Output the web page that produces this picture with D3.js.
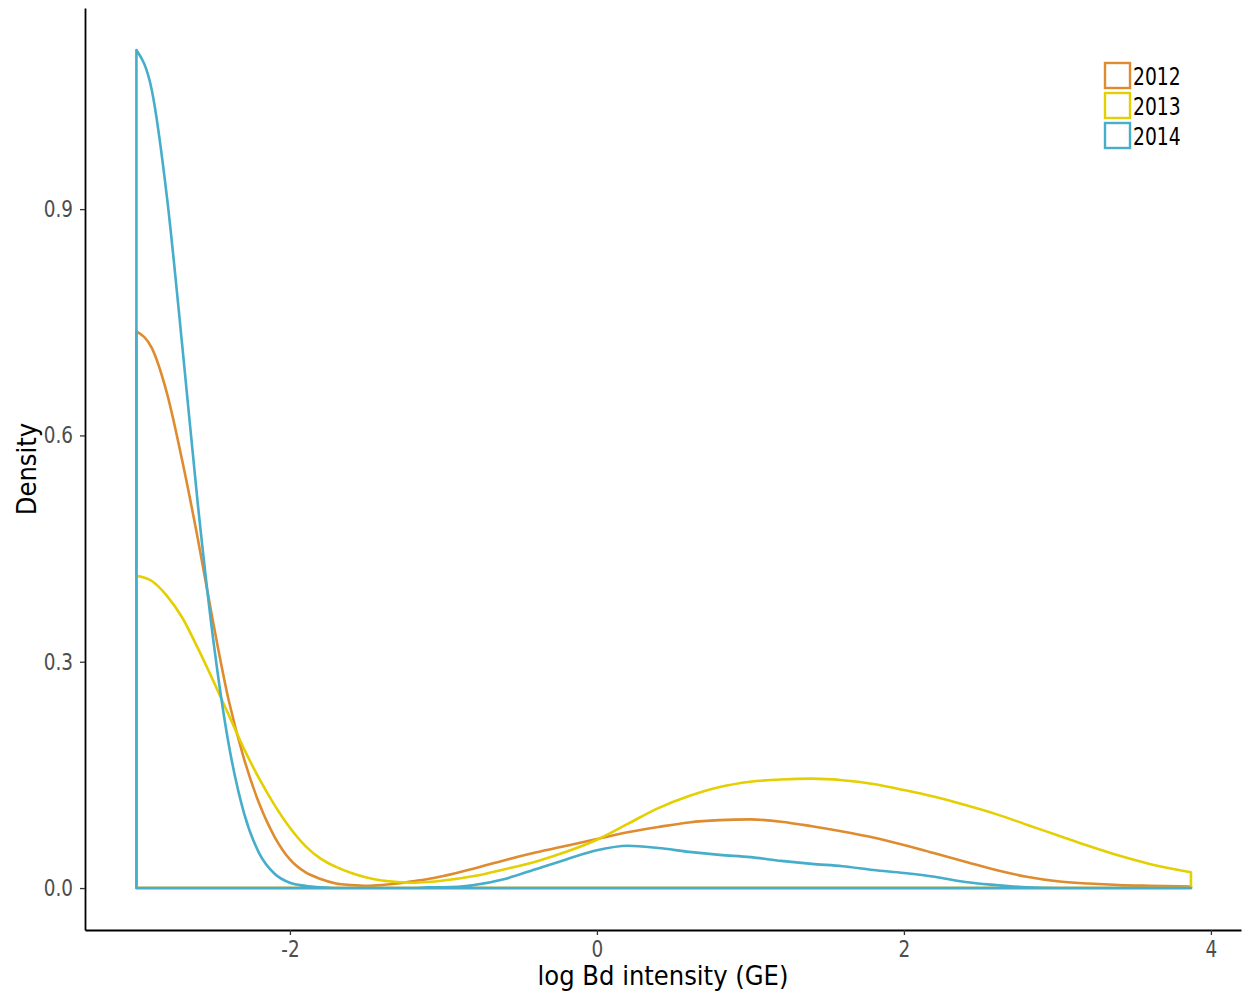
<!DOCTYPE html>
<html>
<head>
<meta charset="utf-8">
<script src="https://cdn.jsdelivr.net/npm/d3@7"></script>
<style>
  body { margin: 0; background: #fff; }
  svg text { font-family: "DejaVu Sans", Verdana, sans-serif; }
</style>
</head>
<body>
<svg id="chart" width="1243" height="996"></svg>
<script>
// grid of x values (log Bd intensity) where the densities were read
const xs = [-3, -2.9, -2.8, -2.7, -2.6, -2.5, -2.4, -2.3, -2.2, -2.1, -2.0, -1.9,
  -1.8, -1.7, -1.6, -1.5, -1.4, -1.3, -1.2, -1.1, -1.0, -0.8, -0.6, -0.4, -0.2, 0, 0.2, 0.4, 0.6, 0.8,
  1.0, 1.2, 1.4, 1.6, 1.8, 2.0, 2.2, 2.4, 2.6, 2.8, 3.0, 3.2, 3.4, 3.6, 3.87]

const years = ["2012", "2013", "2014"]
const colors = ["#DF8B2F", "#E4CF00", "#46ADCB"]

const d2012 = [0.738, 0.716, 0.655, 0.565, 0.463, 0.352, 0.250, 0.172, 0.112, 0.068, 0.038, 0.021,
  0.012, 0.006, 0.004, 0.003, 0.004, 0.006, 0.009, 0.012, 0.016, 0.026, 0.037, 0.047, 0.056, 0.065, 0.074, 0.081, 0.087, 0.090,
  0.091, 0.088, 0.082, 0.075, 0.067, 0.057, 0.046, 0.035, 0.024, 0.015, 0.009, 0.006, 0.004, 0.003, 0.002]
const d2013 = [0.414, 0.407, 0.387, 0.358, 0.318, 0.275, 0.230, 0.185, 0.145, 0.110, 0.080, 0.056,
  0.039, 0.028, 0.020, 0.014, 0.010, 0.008, 0.007, 0.008, 0.010, 0.016, 0.025, 0.035, 0.048, 0.064, 0.085, 0.106, 0.122, 0.134,
  0.141, 0.144, 0.145, 0.143, 0.138, 0.130, 0.121, 0.110, 0.098, 0.084, 0.070, 0.056, 0.043, 0.032, 0.021]
const d2014 = [1.111, 1.058, 0.914, 0.716, 0.509, 0.330, 0.192, 0.100, 0.046, 0.019, 0.007, 0.003,
  0.001, 0.0, 0.0, 0.0, 0.0, 0.0, 0.0, 0.001, 0.001, 0.004, 0.012, 0.025, 0.038, 0.050, 0.056, 0.053, 0.048, 0.044,
  0.041, 0.036, 0.032, 0.029, 0.024, 0.020, 0.015, 0.008, 0.004, 0.001, 0.0, 0.0, 0.0, 0.0, 0.0]

const xTicks = [-2, 0, 2, 4]
const yTicks = [0, 0.3, 0.6, 0.9]

const series = [d2012, d2013, d2014]

const svg = d3.select("#chart")
const mLeft = 85, mRight = 1241, mTop = 8, mBottom = 930

const x = d3.scaleLinear().domain([-3.335, 4.196]).range([mLeft, mRight])
const y = d3.scaleLinear().domain([-0.0556, 1.1666]).range([mBottom, mTop])

// density outlines (closed down to zero like geom_density)
const area = d3.area()
  .x((d, i) => x(xs[i]))
  .y0(y(0))
  .y1(d => y(d))
  .curve(d3.curveMonotoneX)

svg.append("g")
  .selectAll("path")
  .data(series)
  .join("path")
  .attr("d", d => area(d))
  .attr("fill", "none")
  .attr("stroke", (d, i) => colors[i])
  .attr("stroke-width", 2.6)
  .attr("stroke-linejoin", "round")

// axes
const xAxis = svg.append("g")
  .attr("transform", `translate(0,${mBottom})`)
  .call(d3.axisBottom(x).tickValues(xTicks).tickSize(5).tickSizeOuter(0).tickPadding(6).tickFormat(d3.format("d")))
const yAxis = svg.append("g")
  .attr("transform", `translate(${mLeft},0)`)
  .call(d3.axisLeft(y).tickValues(yTicks).tickSize(5).tickSizeOuter(0).tickPadding(7).tickFormat(d3.format(".1f")))

for (const ax of [xAxis, yAxis]) {
  ax.attr("font-family", null)
  ax.select(".domain").attr("stroke", "#000").attr("stroke-width", 1.8)
  ax.selectAll(".tick line").attr("stroke", "#333").attr("stroke-width", 1.3)
  ax.selectAll(".tick text").attr("fill", "#4D4D4D").style("font-size", "23px").attr("data-squeeze", 0.8)
}
xAxis.selectAll(".tick text").text(d => d < 0 ? "-" + Math.abs(d) : d)

// axis titles
svg.append("text")
  .attr("x", (mLeft + mRight) / 2)
  .attr("y", 985)
  .attr("text-anchor", "middle")
  .attr("data-squeeze", 0.9)
  .style("font-size", "27px")
  .text("log Bd intensity (GE)")

svg.append("text")
  .attr("transform", `translate(36,${(mTop + mBottom) / 2}) rotate(-90)`)
  .attr("text-anchor", "middle")
  .attr("data-squeeze", 0.9)
  .style("font-size", "27px")
  .text("Density")

// legend
const legend = svg.append("g").attr("transform", "translate(1105,63)")
const item = legend.selectAll("g")
  .data(years)
  .join("g")
  .attr("transform", (d, i) => `translate(0,${i * 30})`)
item.append("rect")
  .attr("x", 0).attr("y", 0)
  .attr("width", 25).attr("height", 25)
  .attr("fill", "#fff")
  .attr("stroke", (d, i) => colors[i])
  .attr("stroke-width", 2.4)
item.append("text")
  .attr("x", 28)
  .attr("y", 22)
  .attr("data-squeeze", 0.78)
  .style("font-size", "24px")
  .text(d => d)

// the original font is narrower than DejaVu: squeeze labels horizontally
svg.selectAll("text").each(function () {
  const k = +this.getAttribute("data-squeeze") || 0.8
  d3.select(this).attr("textLength", this.getComputedTextLength() * k).attr("lengthAdjust", "spacingAndGlyphs")
})
</script>
</body>
</html>
